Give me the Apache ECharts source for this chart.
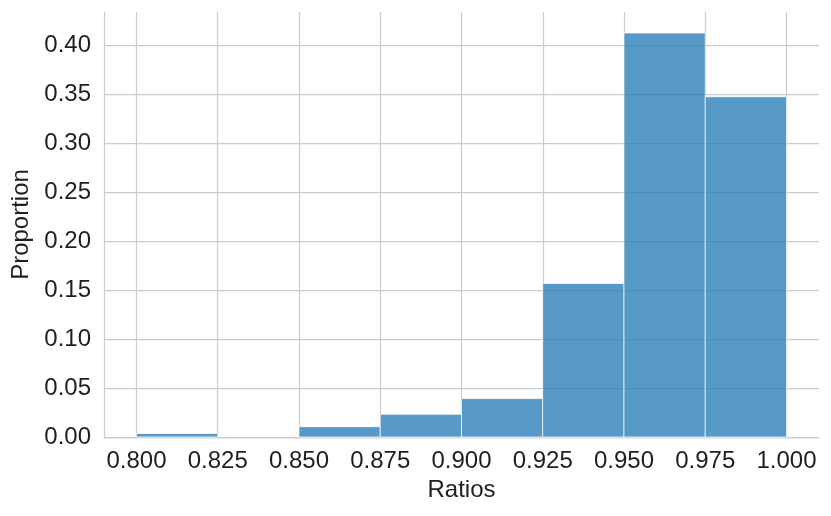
<!DOCTYPE html>
<html>
<head>
<meta charset="utf-8">
<script src="https://cdn.jsdelivr.net/npm/echarts@6/dist/echarts.min.js"></script>
<style>
html,body{margin:0;padding:0;background:#fff;}
#chart{width:831px;height:516px;}
</style>
</head>
<body>
<div id="chart"></div>
<script>
// Histogram bins (left edges, right edges) and proportions
var binStarts = [0.800, 0.825, 0.850, 0.875, 0.900, 0.925, 0.950, 0.975];
var binEnds   = [0.825, 0.850, 0.875, 0.900, 0.925, 0.950, 0.975, 1.000];
var proportions = [0.0035, 0.0, 0.0105, 0.0232, 0.0392, 0.1568, 0.4126, 0.3475];

// Tick values
var xTicks = [0.800, 0.825, 0.850, 0.875, 0.900, 0.925, 0.950, 0.975, 1.000];
var yTicks = [0.00, 0.05, 0.10, 0.15, 0.20, 0.25, 0.30, 0.35, 0.40];

var xMin = 0.79, xMax = 1.01;
var yMin = 0, yMax = 0.434;

var data = binStarts.map(function (s, i) { return [s, binEnds[i], proportions[i]]; });

var font = '"Liberation Sans", Arial, Helvetica, sans-serif';
var gridColor = '#cccccc';
var textColor = '#1f1f1f';

var chart = echarts.init(document.getElementById('chart'), null, {renderer: 'canvas'});
chart.setOption({
  animation: false,
  backgroundColor: '#ffffff',
  grid: {left: 104, right: 12, top: 12, bottom: 79, containLabel: false},
  xAxis: {
    type: 'value', min: xMin, max: xMax,
    name: 'Ratios', nameLocation: 'middle', nameGap: 37,
    nameTextStyle: {fontFamily: font, fontSize: 24, color: textColor},
    axisLine: {show: true, onZero: false, lineStyle: {color: gridColor, width: 1.25}},
    axisTick: {show: false, customValues: xTicks},
    axisLabel: {customValues: xTicks, fontFamily: font, fontSize: 24, color: textColor, margin: 12,
      formatter: function (v) { return v.toFixed(3); }},
    splitLine: {show: true, lineStyle: {color: gridColor, width: 1.25}}
  },
  yAxis: {
    type: 'value', min: yMin, max: yMax,
    name: 'Proportion', nameLocation: 'middle', nameGap: 69, nameRotate: 90,
    nameTextStyle: {fontFamily: font, fontSize: 24, color: textColor},
    axisLine: {show: true, lineStyle: {color: gridColor, width: 1.25}},
    axisTick: {show: false, customValues: yTicks},
    axisLabel: {customValues: yTicks, fontFamily: font, fontSize: 24, color: textColor, margin: 13,
      formatter: function (v) { return v.toFixed(2); }},
    splitLine: {show: true, lineStyle: {color: gridColor, width: 1.25}}
  },
  series: [{
    type: 'custom',
    data: data,
    encode: {x: [0, 1], y: 2},
    renderItem: function (params, api) {
      var v = api.value(2);
      if (!(v > 0)) return null;
      var p0 = api.coord([api.value(0), v]);
      var p1 = api.coord([api.value(1), 0]);
      return {
        type: 'rect',
        shape: {x: p0[0], y: p0[1], width: p1[0] - p0[0], height: p1[1] - p0[1]},
        style: {fill: 'rgba(31,119,180,0.75)', stroke: 'rgba(255,255,255,0.75)', lineWidth: 1}
      };
    }
  }]
});
</script>
</body>
</html>
